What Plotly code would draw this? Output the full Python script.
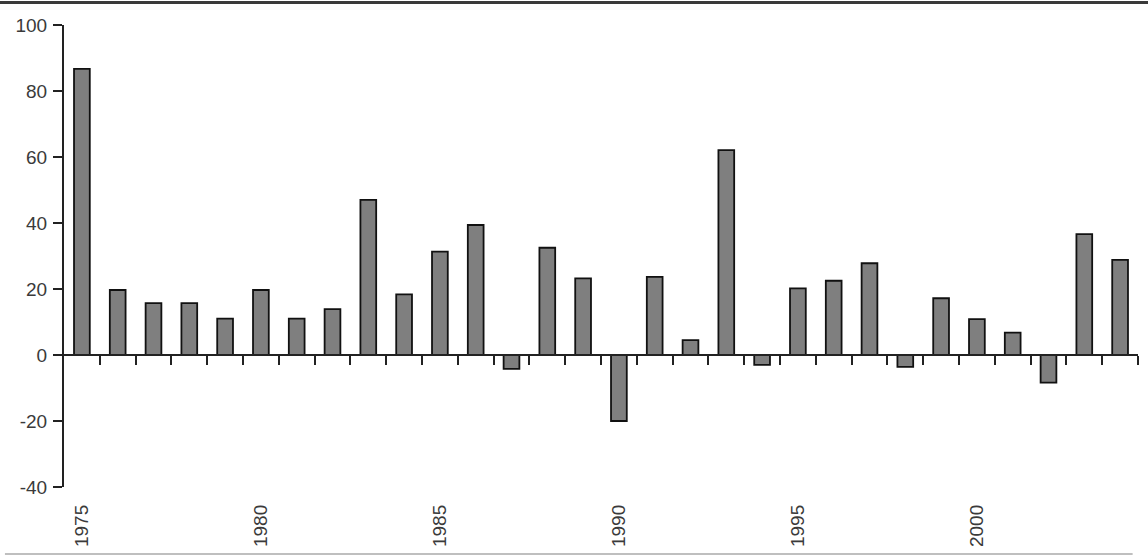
import plotly.graph_objects as go

years = list(range(1975, 2005))
values = [86.7, 19.7, 15.7, 15.7, 11.0, 19.7, 11.0, 13.9, 47.0, 18.4,
          31.3, 39.4, -4.2, 32.5, 23.2, -20.0, 23.7, 4.5, 62.1, -3.0,
          20.2, 22.5, 27.8, -3.6, 17.2, 10.9, 6.8, -8.4, 36.6, 28.8]
label_years = [1975, 1980, 1985, 1990, 1995, 2000]
y_ticks = [-40, -20, 0, 20, 40, 60, 80, 100]

boundaries = [y + 0.5 for y in years]
xrange = [years[0] - 0.5, years[-1] + 0.5]
yrange = [-40, 100]

font = dict(family="Liberation Sans, Arial, sans-serif", size=19, color="#3a3a3a")

fig = go.Figure()
fig.add_trace(go.Bar(
    x=years, y=values, width=0.44,
    marker=dict(color="#7f7f7f", line=dict(color="#111111", width=1.8)),
    showlegend=False, hoverinfo="x+y",
))
# invisible trace for label axis
fig.add_trace(go.Scatter(x=xrange, y=[0, 0], xaxis="x2", mode="lines",
                         line=dict(width=0), showlegend=False, hoverinfo="skip"))

zero_pos = (0 - yrange[0]) / (yrange[1] - yrange[0])

fig.update_layout(
    width=1148, height=556,
    margin=dict(l=64, r=10, t=25, b=69),
    paper_bgcolor="white", plot_bgcolor="white",
    font=font,
    xaxis=dict(
        range=xrange, anchor="free", position=zero_pos, automargin=False,
        showgrid=False, zeroline=False,
        showline=True, linecolor="#222222", linewidth=2,
        tickmode="array", tickvals=boundaries, ticks="outside",
        ticklen=9, tickwidth=2, tickcolor="#222222",
        showticklabels=False,
    ),
    xaxis2=dict(
        range=xrange, overlaying="x", anchor="y", side="bottom", automargin=False,
        showgrid=False, zeroline=False, showline=False,
        tickmode="array", tickvals=label_years,
        ticktext=[str(v) for v in label_years],
        ticks="", tickangle=-90, ticklabelstandoff=13,
        tickfont=font,
    ),
    yaxis=dict(
        range=yrange, showgrid=False, zeroline=False, automargin=False,
        showline=True, linecolor="#222222", linewidth=2,
        tickmode="array", tickvals=y_ticks,
        ticktext=[str(v) for v in y_ticks], ticks="outside",
        ticklen=9, tickwidth=2, tickcolor="#222222",
        tickfont=font, ticklabelstandoff=2,
    ),
    shapes=[
        dict(type="line", xref="paper", yref="paper",
             x0=-0.07, x1=1.02, y0=1.0487, y1=1.0487,
             line=dict(color="#3a3a3a", width=3)),
        dict(type="line", xref="paper", yref="paper",
             x0=-0.055, x1=0.995, y0=-0.145, y1=-0.145,
             line=dict(color="#aaaaaa", width=1.5)),
    ],
)

fig.write_html("out.html",
               config={"displayModeBar": False},
               post_script="document.body.style.margin='0';document.body.style.overflow='hidden';")
